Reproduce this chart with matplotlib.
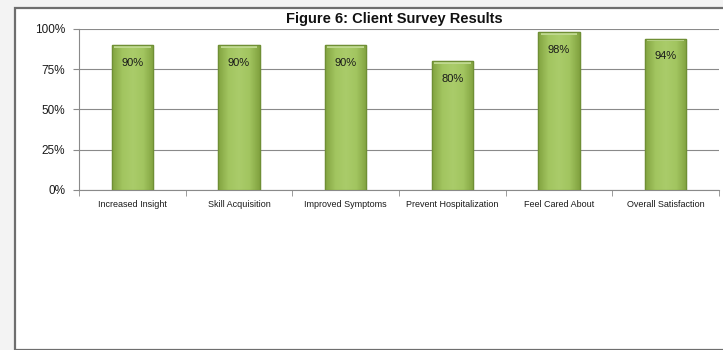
import matplotlib
matplotlib.use("Agg")
import matplotlib.pyplot as plt
import numpy as np
from matplotlib.patches import Rectangle
from matplotlib.colors import LinearSegmentedColormap
from matplotlib.ticker import FixedLocator, FuncFormatter

categories = ["Increased Insight", "Skill Acquisition", "Improved Symptoms",
              "Prevent Hospitalization", "Feel Cared About", "Overall Satisfaction"]
results = [90, 90, 90, 80, 98, 94]
y_ticks = [0, 25, 50, 75, 100]

plt.rcParams['font.family'] = ['Liberation Sans Narrow', 'Liberation Sans', 'DejaVu Sans']

fig = plt.figure(figsize=(7.23, 3.5), dpi=100, facecolor="#f3f3f3")

# white sheet with a grey frame behind the chart
sheet = Rectangle((15 / 723, 0), 1.0, 1 - 8 / 350, transform=fig.transFigure,
                  facecolor="white", edgecolor="#6e6e6e", linewidth=1.6, zorder=-5)
fig.patches.append(sheet)

ax = fig.add_axes([79 / 723, 1 - 190 / 350, 640 / 723, 161 / 350])
ax.set_facecolor("none")

x = np.arange(len(categories))
bars = ax.bar(x, results, width=0.39, color="#9bbb59", edgecolor="#6f8f35",
              linewidth=0.9, zorder=3)

# horizontal shading: darker at the sides, light in the middle
shade = LinearSegmentedColormap.from_list("bevel", ["#82a340", "#a2c560", "#aacc6a",
                                                    "#a2c560", "#82a340"])
for b in bars:
    x0, w, h = b.get_x(), b.get_width(), b.get_height()
    grad = np.linspace(0, 1, 80).reshape(1, -1)
    im = ax.imshow(grad, extent=(x0, x0 + w, 0, h), aspect="auto", cmap=shade,
                   zorder=4)
    im.set_clip_path(b)
    ax.add_patch(Rectangle((x0 + w * 0.06, h - 1.6), w * 0.88, 1.6,
                           facecolor="#c0d990", edgecolor="none", zorder=5))
    ax.add_patch(Rectangle((x0, 0), w, h, facecolor="none", edgecolor="#6f8f35",
                           linewidth=0.9, zorder=6))

for xi, v in zip(x, results):
    ax.text(xi, v - 11, f"{v}%", ha="center", va="center", fontsize=8,
            color="#1a1a1a", zorder=7)

ax.set_xlim(-0.5, len(categories) - 0.5)
ax.set_ylim(0, 100)
ax.yaxis.set_major_locator(FixedLocator(y_ticks))
ax.yaxis.set_major_formatter(FuncFormatter(lambda v, p: f"{v:.0f}%"))
ax.grid(axis="y", color="#8a8a8a", linewidth=0.8, zorder=1)

ax.set_xticks(x)
ax.set_xticklabels(categories, fontsize=6.5, color="#1a1a1a")
ax.xaxis.set_minor_locator(FixedLocator(np.arange(-0.5, len(categories), 1)))
ax.tick_params(axis="x", which="major", length=0, pad=7)
ax.tick_params(axis="x", which="minor", length=4, color="#8a8a8a")
ax.tick_params(axis="y", length=4, color="#8a8a8a", labelsize=8.5,
               labelcolor="#1a1a1a", pad=6)

for side in ["top", "right"]:
    ax.spines[side].set_visible(False)
for side in ["left", "bottom"]:
    ax.spines[side].set_color("#8a8a8a")
    ax.spines[side].set_linewidth(0.8)

fig.text(394 / 723, 1 - 19 / 350, "Figure 6: Client Survey Results", ha="center",
         va="center", fontsize=10.5, fontweight="bold", color="#111111")

fig.savefig("out.png", dpi=100, facecolor=fig.get_facecolor())
